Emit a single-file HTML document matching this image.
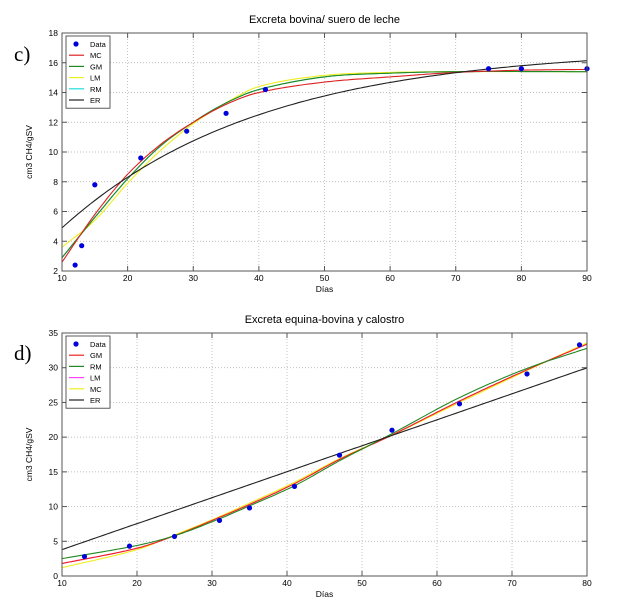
<!DOCTYPE html>
<html><head><meta charset="utf-8"><style>
body{margin:0;background:#fff;}
svg{display:block;font-family:"Liberation Sans",sans-serif;}
</style></head><body>
<svg id="s" width="643" height="616" viewBox="0 0 643 616"></svg>
<script>
const S=document.getElementById('s');let h='';
function cr(pts){return t=>{let i=0;while(i<pts.length-2&&t>pts[i+1][0])i++;
 const p0=pts[Math.max(i-1,0)],p1=pts[i],p2=pts[i+1],p3=pts[Math.min(i+2,pts.length-1)];
 const u=(t-p1[0])/(p2[0]-p1[0]);const dx=p2[0]-p1[0];
 const m1=(p2[1]-p0[1])/(p2[0]-p0[0])*dx, m2=(p3[1]-p1[1])/(p3[0]-p1[0])*dx;
 const u2=u*u,u3=u2*u;return (2*u3-3*u2+1)*p1[1]+(u3-2*u2+u)*m1+(-2*u3+3*u2)*p2[1]+(u3-u2)*m2;};}
function chart(o){
 const {L,R,T,B,x0,x1,y0,y1,xt,yt}=o;
 const X=v=>L+(v-x0)/(x1-x0)*(R-L), Y=v=>B-(v-y0)/(y1-y0)*(B-T);
 h+=`<text x="${(L+R)/2}" y="${T-10}" font-size="11" text-anchor="middle">${o.title}</text>`;
 h+=`<text x="${o.lx}" y="${o.ly}" font-size="21" font-family="Liberation Serif,serif">${o.lab}</text>`;
 xt.forEach(v=>{const x=X(v);h+=`<line x1="${x}" y1="${T}" x2="${x}" y2="${B}" stroke="#aaa" stroke-width="0.7" stroke-dasharray="1,2"/>`;
  h+=`<line x1="${x}" y1="${B}" x2="${x}" y2="${B-5}" stroke="#555"/><line x1="${x}" y1="${T}" x2="${x}" y2="${T+5}" stroke="#555"/>`;
  h+=`<text x="${x}" y="${B+10}" font-size="8.5" text-anchor="middle">${v}</text>`;});
 yt.forEach(v=>{const y=Y(v);h+=`<line x1="${L}" y1="${y}" x2="${R}" y2="${y}" stroke="#aaa" stroke-width="0.7" stroke-dasharray="1,2"/>`;
  h+=`<line x1="${L}" y1="${y}" x2="${L+5}" y2="${y}" stroke="#555"/><line x1="${R}" y1="${y}" x2="${R-5}" y2="${y}" stroke="#555"/>`;
  h+=`<text x="${L-4}" y="${y+3}" font-size="8.5" text-anchor="end">${v}</text>`;});
 o.series.forEach(s=>{let d='';for(let t=x0;t<=x1+1e-9;t+=0.5){d+=(d?'L':'M')+X(t).toFixed(1)+','+Y(s.f(t)).toFixed(1);}
  h+=`<path d="${d}" fill="none" stroke="${s.c}" stroke-width="1.1"/>`;});
 o.data.forEach(p=>{h+=`<circle cx="${X(p[0])}" cy="${Y(p[1])}" r="2.6" fill="#0000dd"/>`;});
 h+=`<rect x="${L}" y="${T}" width="${R-L}" height="${B-T}" fill="none" stroke="#555" stroke-width="1"/>`;
 h+=`<text x="${(L+R)/2}" y="${B+21}" font-size="8.5" text-anchor="middle">Días</text>`;
 h+=`<text transform="translate(${L-30},${(T+B)/2}) rotate(-90)" font-size="8.5" text-anchor="middle">cm3 CH4/gSV</text>`;
 const lx=L+4,ly=T+3;h+=`<rect x="${lx}" y="${ly}" width="44" height="${o.leg.length*11.2+5}" fill="#fff" stroke="#333" stroke-width="0.8"/>`;
 o.leg.forEach((g,i)=>{const y=ly+8+i*11.2;
  if(g[1]=='dot')h+=`<circle cx="${lx+10}" cy="${y}" r="2.6" fill="#0000dd"/>`;
  else h+=`<line x1="${lx+3}" y1="${y}" x2="${lx+18}" y2="${y}" stroke="${g[1]}" stroke-width="1.2"/>`;
  h+=`<text x="${lx+24}" y="${y+3}" font-size="7.5">${g[0]}</text>`;});
}
const gC=cr([[10,2.9],[15,5.6],[20,8.2],[25,10.4],[30,12.0],[35,13.3],[40,14.2],[50,15.05],[60,15.3],[70,15.4],[90,15.4]]);
chart({L:62,R:587,T:33,B:271,x0:10,x1:90,y0:2,y1:18,xt:[10,20,30,40,50,60,70,80,90],yt:[2,4,6,8,10,12,14,16,18],
 title:"Excreta bovina/ suero de leche",lab:"c)",lx:14,ly:61,
 series:[{c:"#22dddd",f:gC},
  {c:"#eeee22",f:cr([[10,3.6],[15,5.4],[20,7.9],[25,10.1],[30,11.9],[35,13.3],[40,14.4],[50,15.15],[60,15.35],[70,15.4],[90,15.4]])},
  {c:"#228822",f:gC},
  {c:"#dd2222",f:cr([[10,2.6],[15,5.8],[20,8.5],[25,10.5],[30,12.0],[35,13.2],[40,14.0],[50,14.7],[60,15.05],[70,15.35],[80,15.5],[90,15.55]])},
  {c:"#222",f:t=>17-12.1*Math.exp(-0.033*(t-10))}],
 data:[[12,2.4],[13,3.7],[15,7.8],[22,9.6],[29,11.4],[35,12.6],[41,14.2],[75,15.6],[80,15.6],[90,15.6]],
 leg:[["Data","dot"],["MC","#dd2222"],["GM","#228822"],["LM","#eeee22"],["RM","#22dddd"],["ER","#222"]]});
const rD=cr([[10,1.8],[20,4.0],[25,5.8],[30,8.0],[35,10.3],[41,13.3],[47,16.8],[54,20.3],[63,25.2],[72,29.7],[80,33.4]]);
chart({L:62,R:587,T:333,B:576,x0:10,x1:80,y0:0,y1:35,xt:[10,20,30,40,50,60,70,80],yt:[0,5,10,15,20,25,30,35],
 title:"Excreta equina-bovina y calostro",lab:"d)",lx:14,ly:360,
 series:[{c:"#ff44ff",f:rD},
  {c:"#eeee22",f:cr([[10,1.2],[20,3.8],[25,5.9],[30,8.1],[35,10.5],[41,13.5],[47,16.9],[54,20.3],[63,25.0],[72,29.6],[80,33.6]])},
  {c:"#ee2222",f:rD},
  {c:"#228822",f:cr([[10,2.5],[20,4.4],[25,5.8],[30,7.8],[35,10.1],[41,13.0],[47,16.6],[54,20.5],[63,25.7],[72,29.9],[80,32.8]])},
  {c:"#222",f:t=>3.8+0.374*(t-10)}],
 data:[[13,2.8],[19,4.3],[25,5.7],[31,8.0],[35,9.8],[41,12.9],[47,17.4],[54,21.0],[63,24.8],[72,29.1],[79,33.3]],
 leg:[["Data","dot"],["GM","#ee2222"],["RM","#228822"],["LM","#ff44ff"],["MC","#eeee22"],["ER","#222"]]});
S.innerHTML=h;
</script>
</body></html>
